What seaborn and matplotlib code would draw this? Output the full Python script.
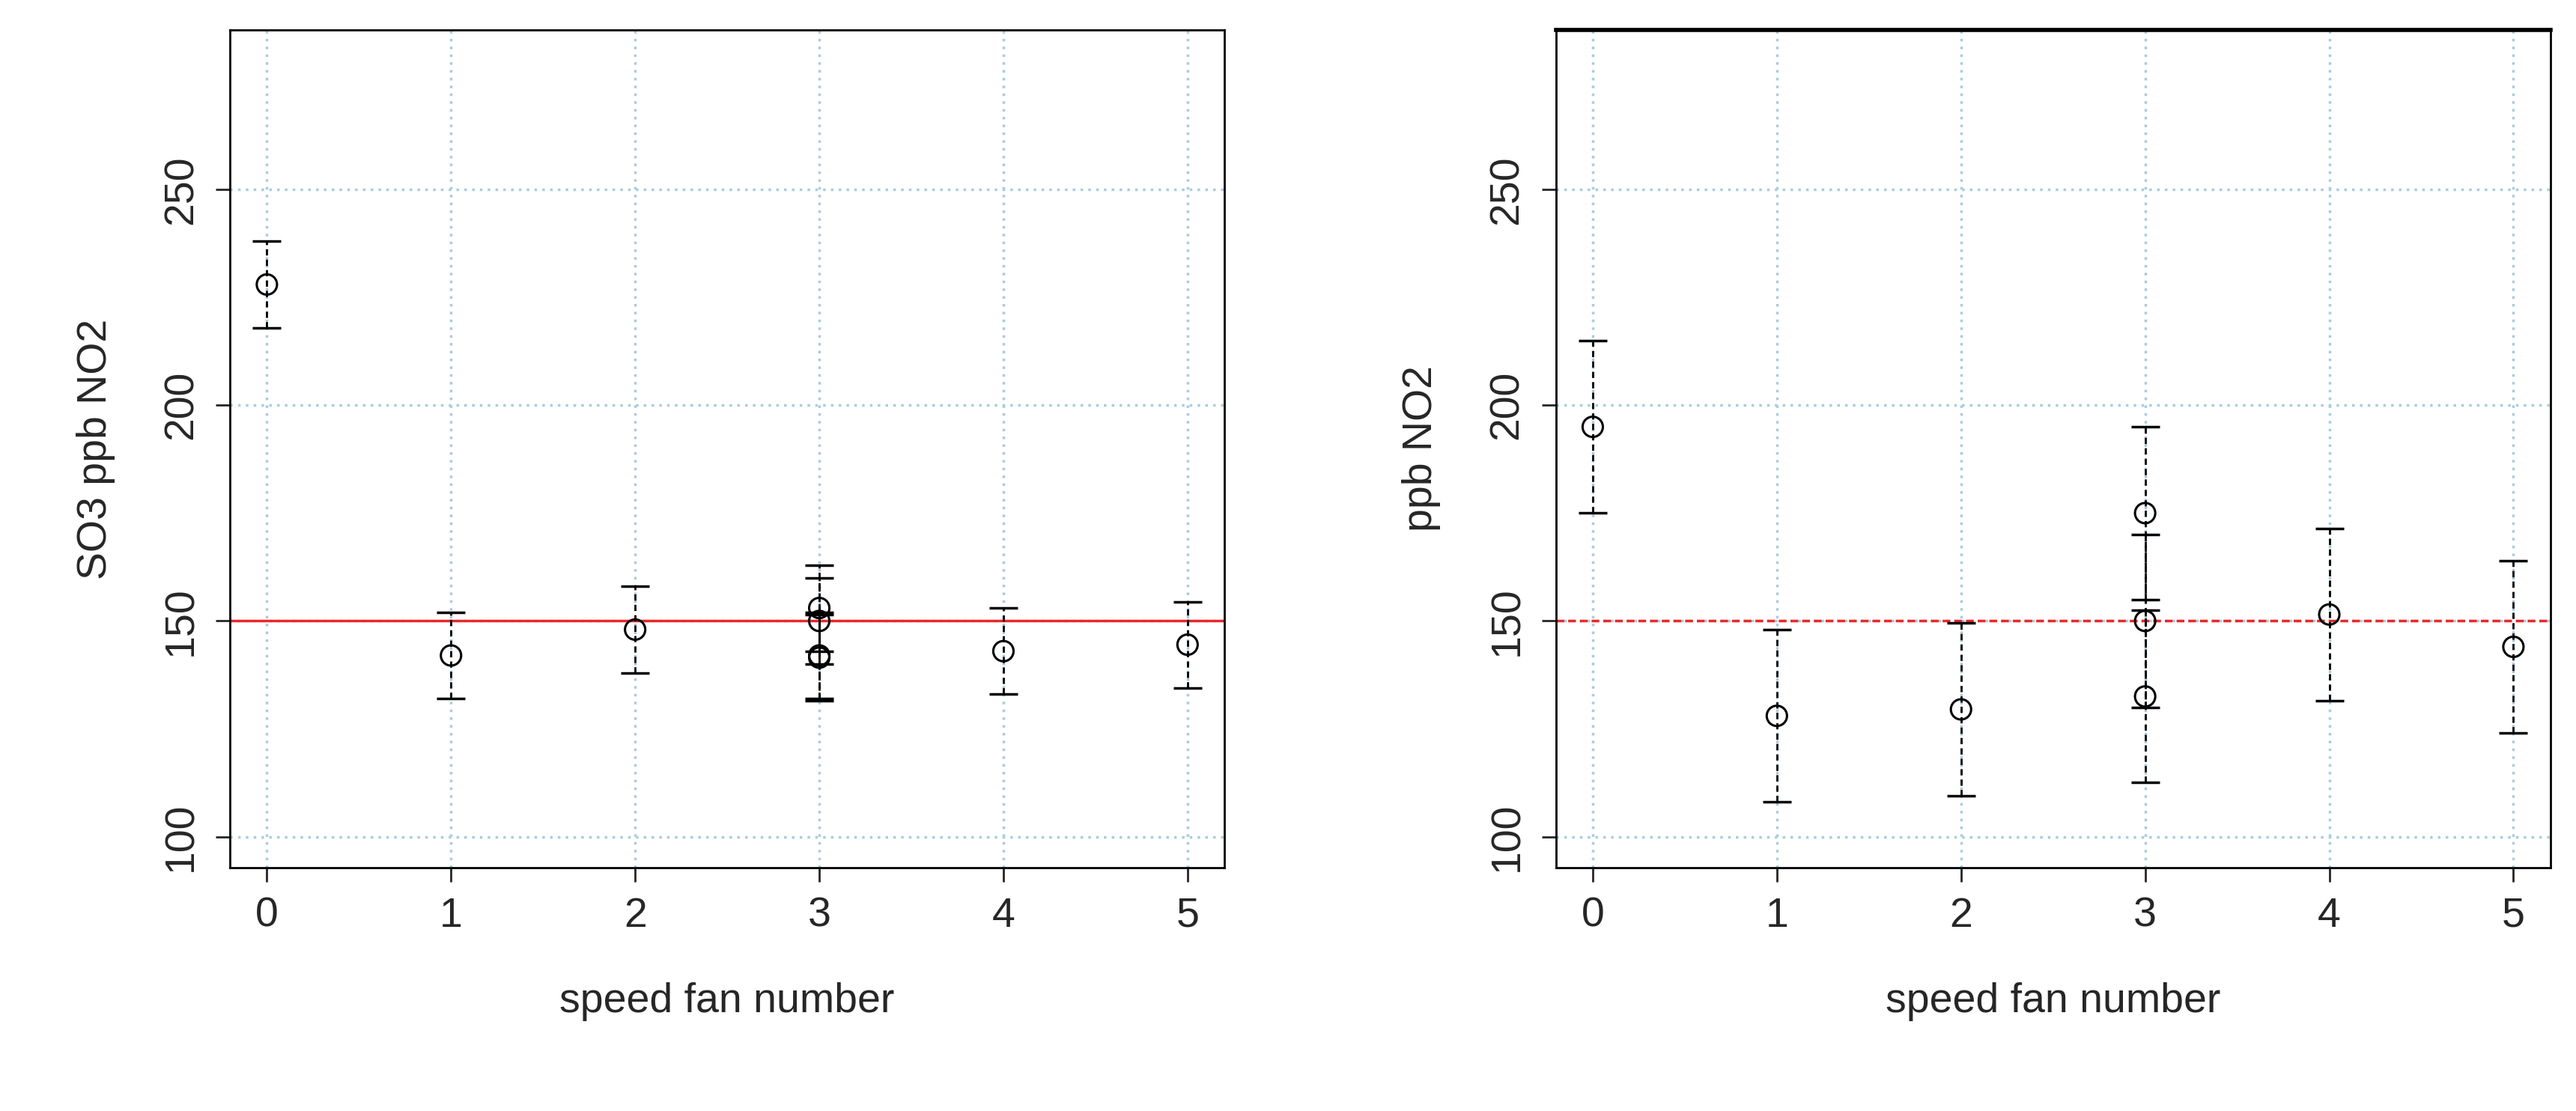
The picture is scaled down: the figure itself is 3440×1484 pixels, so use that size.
import matplotlib
matplotlib.use("Agg")
import matplotlib.pyplot as plt
import seaborn as sns
import pandas as pd

sns.set_style("white")
plt.rcParams['font.family'] = ['Liberation Sans', 'DejaVu Sans']

left_x = [0, 1, 2, 3, 3, 3, 3, 4, 5]
left_y = [228, 142, 148, 153, 150, 142, 141.5, 143, 144.5]
left_err = [10, 10, 10, 10, 10, 10, 10, 10, 10]

right_x = [0, 1, 2, 3, 3, 3, 4, 5]
right_y = [195, 128, 129.5, 175, 150, 132.5, 151.5, 144]
right_err = [20, 20, 20, 20, 20, 20, 20, 20]

xticks = [0, 1, 2, 3, 4, 5]
yticks = [100, 150, 200, 250]

fig = plt.figure(figsize=(34.4, 14.84), dpi=100)
axL = fig.add_axes([0.0893, 0.219, 0.386, 0.754])
axR = fig.add_axes([0.604, 0.219, 0.386, 0.754])

def panel(ax, x, y, e, ylabel, redstyle):
    for v in xticks:
        ax.axvline(v, color='#a8cce0', ls=(0, (1, 2)), lw=2.5, zorder=0)
    for v in yticks:
        ax.axhline(v, color='#a8cce0', ls=(0, (1, 2)), lw=2.5, zorder=0)
    ax.axhline(150, color='#e8282a', ls=redstyle, lw=2.5, zorder=1)
    eb = ax.errorbar(x, y, yerr=e, fmt='none', ecolor='black', elinewidth=2,
                     capsize=14, capthick=2.5, zorder=2)
    for lc in eb[2]:
        lc.set_linestyle((0, (3, 2)))
    df = pd.DataFrame({'x': x, 'y': y})
    sns.scatterplot(data=df, x='x', y='y', ax=ax, s=380, facecolors='none',
                    edgecolor='black', linewidth=2.2, zorder=3)
    ax.set_xlim(-0.2, 5.2)
    ax.set_ylim(92.8, 287)
    ax.set_xticks(xticks)
    ax.set_yticks(yticks)
    ax.tick_params(axis='both', labelsize=40, length=14, width=2, direction='out',
                   bottom=True, left=True, pad=14)
    ax.tick_params(axis='y', labelrotation=90)
    for t in ax.get_yticklabels():
        t.set_va('center')
    for s in ax.spines.values():
        s.set_linewidth(2)
        s.set_color('black')
    ax.set_xlabel('speed fan number', fontsize=40, labelpad=45)
    ax.set_ylabel(ylabel, fontsize=40, labelpad=45)

panel(axL, left_x, left_y, left_err, 'SO3 ppb NO2', '-')
panel(axR, right_x, right_y, right_err, 'ppb NO2', (0, (3, 1.5)))
axR.spines['top'].set_linewidth(4)

fig.savefig('out.png', dpi=100)
